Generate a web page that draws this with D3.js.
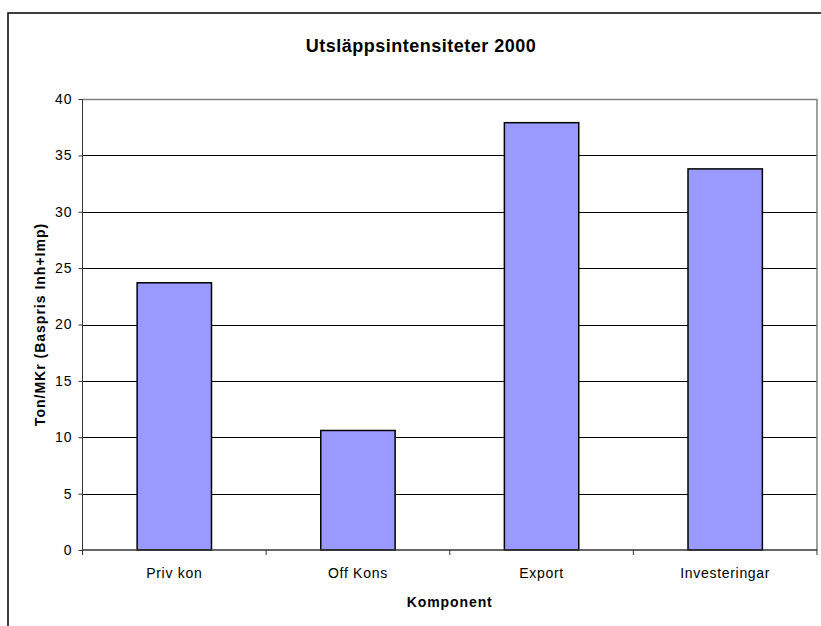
<!DOCTYPE html>
<html>
<head>
<meta charset="utf-8">
<script src="https://cdn.jsdelivr.net/npm/d3@7"></script>
<style>
  body { margin: 0; background: #fff; }
  svg { display: block; font-family: "Liberation Sans", Arial, sans-serif; }
</style>
</head>
<body>
<svg id="chart"></svg>
<script>
let categories = ['Priv kon', 'Off Kons', 'Export', 'Investeringar'];
let values = [23.7, 10.6, 37.9, 33.8];
let yTicks = [0, 5, 10, 15, 20, 25, 30, 35, 40];

let width = 821;
let height = 626;
let plotLeft = 82.5;
let plotRight = 817;
let plotTop = 99;
let plotBottom = 550;

let svg = d3.select('#chart').attr('width', width).attr('height', height);

// outer frame, runs off the right and bottom of the picture
svg.append('rect')
  .attr('x', 8).attr('y', 13)
  .attr('width', 830).attr('height', 640)
  .attr('fill', 'none').attr('stroke', '#000').attr('stroke-width', 1.5);

let xScale = d3.scaleBand().domain(categories).range([plotLeft, plotRight]).padding(0);
let yScale = d3.scaleLinear().domain([0, 40]).range([plotBottom, plotTop]);

// gridlines
svg.append('g')
  .selectAll('line')
  .data(yTicks.filter(t => t > 0 && t < 40))
  .enter()
  .append('line')
  .attr('x1', plotLeft).attr('x2', plotRight)
  .attr('y1', d => Math.round(yScale(d)) + 0.5)
  .attr('y2', d => Math.round(yScale(d)) + 0.5)
  .attr('stroke', '#000').attr('stroke-width', 1);

// plot border top/right
svg.append('path')
  .attr('d', `M${plotLeft},${plotTop + 0.5}H${plotRight}V${plotBottom}`)
  .attr('fill', 'none').attr('stroke', '#808080').attr('stroke-width', 1.5);

// bars
let bw = xScale.bandwidth() * 0.405;
svg.append('g')
  .selectAll('rect')
  .data(values)
  .enter()
  .append('rect')
  .attr('x', (d, i) => xScale(categories[i]) + (xScale.bandwidth() - bw) / 2)
  .attr('y', d => yScale(d))
  .attr('width', bw)
  .attr('height', d => yScale(0) - yScale(d))
  .attr('fill', '#9999ff')
  .attr('stroke', '#000').attr('stroke-width', 1.5);

// y axis
let yAxis = d3.axisLeft(yScale).tickValues(yTicks).tickSize(4).tickPadding(6);
let gy = svg.append('g')
  .attr('transform', 'translate(' + plotLeft + ',0)')
  .call(yAxis);
gy.select('.domain').attr('stroke', '#333').attr('d', `M0,${plotTop}V${plotBottom}`);
gy.selectAll('.tick line').attr('stroke', '#333');
gy.selectAll('.tick text').attr('font-size', 14).attr('fill', '#000')
  .attr('letter-spacing', 1)
  .attr('font-family', '"Liberation Sans", Arial, sans-serif');

// x axis with ticks at band edges
let gx = svg.append('g')
  .attr('transform', 'translate(0,' + plotBottom + ')');
gx.append('line')
  .attr('x1', plotLeft).attr('x2', plotRight)
  .attr('stroke', '#333').attr('stroke-width', 1.5);
gx.selectAll('.edge')
  .data(categories.concat(['end']))
  .enter()
  .append('line')
  .attr('x1', (d, i) => i < categories.length ? xScale(d) : plotRight)
  .attr('x2', (d, i) => i < categories.length ? xScale(d) : plotRight)
  .attr('y1', 0).attr('y2', 5)
  .attr('stroke', '#333');
gx.selectAll('.lab')
  .data(categories)
  .enter()
  .append('text')
  .attr('x', d => xScale(d) + xScale.bandwidth() / 2)
  .attr('y', 28)
  .attr('text-anchor', 'middle')
  .attr('font-size', 14)
  .attr('letter-spacing', 0.7)
  .text(d => d);

// titles
svg.append('text')
  .attr('x', 421).attr('y', 52)
  .attr('text-anchor', 'middle')
  .attr('font-size', 18).attr('font-weight', 'bold')
  .attr('letter-spacing', 0.5)
  .text('Utsläppsintensiteter 2000');

svg.append('text')
  .attr('x', (plotLeft + plotRight) / 2).attr('y', 607)
  .attr('text-anchor', 'middle')
  .attr('font-size', 14).attr('font-weight', 'bold')
  .attr('letter-spacing', 0.9)
  .text('Komponent');

svg.append('text')
  .attr('transform', 'translate(45,' + (plotTop + plotBottom) / 2 + ') rotate(-90)')
  .attr('text-anchor', 'middle')
  .attr('font-size', 14).attr('font-weight', 'bold')
  .attr('letter-spacing', 1)
  .text('Ton/MKr (Baspris Inh+Imp)');
</script>
</body>
</html>
